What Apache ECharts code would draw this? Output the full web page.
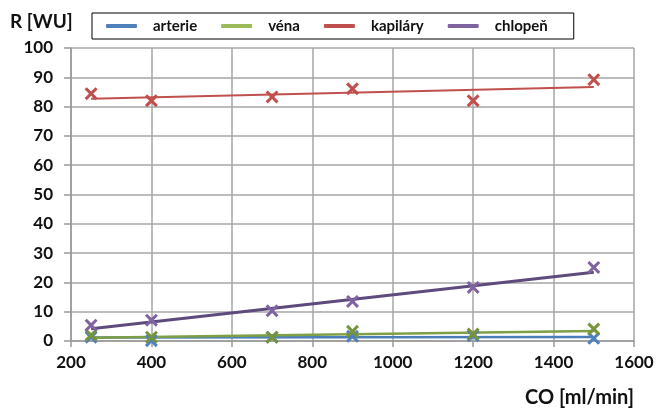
<!DOCTYPE html>
<html>
<head>
<meta charset="utf-8">
<script src="https://cdn.jsdelivr.net/npm/echarts@6/dist/echarts.min.js"></script>
<style>
html,body{margin:0;padding:0;background:#fff;}
#chart{width:659px;height:408px;}
</style>
</head>
<body>
<div id="chart"></div>
<script>
// Data
const coValues = [250, 400, 700, 900, 1200, 1500];
const arterie  = [1.3, 0.1, 1.3, 1.6, 1.8, 0.9];
const vena     = [2.0, 1.3, 1.3, 3.3, 2.4, 4.1];
const kapilary = [84.4, 82.0, 83.3, 86.1, 82.0, 89.2];
const chlopen  = [5.4, 7.1, 10.3, 13.5, 18.3, 25.1];

// Trendline end points (as drawn in the picture)
const trendX        = [250, 1500];
const arterieTrend  = [1.2, 1.4];
const venaTrend     = [1.1, 3.4];
const kapilaryTrend = [82.7, 86.7];
const chlopenTrend  = [4.2, 23.5];

const xTicks = [200, 400, 600, 800, 1000, 1200, 1400, 1600];

const names = ['arterie', 'véna', 'kapiláry', 'chlopeň'];
const legendColors = ['#4F81BD', '#9BBB59', '#C0504D', '#8064A2'];
const lineColors   = ['#4A7EBB', '#7E9F45', '#C0504D', '#5F4A7E'];
const markerColors = ['#4F81BD', '#77933C', '#C0504D', '#8064A2'];
const lineWidths   = [2.5, 2.5, 2, 3];

const pointSets = [arterie, vena, kapilary, chlopen];
const trendSets = [arterieTrend, venaTrend, kapilaryTrend, chlopenTrend];

const crossPath = 'path://M0,2L2,0L6,4L10,0L12,2L8,6L12,10L10,12L6,8L2,12L0,10L4,6Z';
const font = 'Lato, "Open Sans", sans-serif';

const series = [];
names.forEach((n, i) => {
  series.push({
    name: n,
    type: 'line',
    data: trendX.map((x, k) => [x, trendSets[i][k]]),
    showSymbol: false,
    symbol: 'none',
    lineStyle: { color: lineColors[i], width: lineWidths[i] },
    itemStyle: { color: legendColors[i] },
    z: 3,
    silent: true
  });
});
names.forEach((n, i) => {
  series.push({
    name: n + ' body',
    type: 'scatter',
    data: coValues.map((x, k) => [x, pointSets[i][k]]),
    symbol: crossPath,
    symbolSize: 13,
    itemStyle: { color: markerColors[i], opacity: 1 },
    z: 4,
    silent: true
  });
});

const chart = echarts.init(document.getElementById('chart'), null, { renderer: 'canvas' });
chart.setOption({
  animation: false,
  backgroundColor: '#ffffff',
  grid: { left: 71, right: 25, top: 48, bottom: 66, containLabel: false },
  legend: {
    left: 92, top: 13,
    padding: [5, 26, 5, 14],
    borderColor: '#000', borderWidth: 1,
    itemWidth: 31, itemHeight: 4,
    itemGap: 24,
    icon: 'roundRect',
    data: names.map((n, i) => ({ name: n, itemStyle: { color: legendColors[i] }, lineStyle: { color: legendColors[i] } })),
    textStyle: { fontFamily: font, fontWeight: 'bold', fontSize: 15, color: '#111', padding: [0, 0, 0, 11], lineHeight: 16 }
  },
  xAxis: {
    type: 'value', min: 200, max: 1600, interval: 200,
    name: 'CO [ml/min]',
    nameLocation: 'end',
    nameGap: 0,
    nameTextStyle: { fontFamily: font, fontWeight: 'bold', fontSize: 20, color: '#111', align: 'right', verticalAlign: 'top', padding: [47, 0, 0, 0] },
    axisLine: { show: true, lineStyle: { color: '#999', width: 1.5 } },
    axisTick: { show: true, length: 6, inside: false, lineStyle: { color: '#999', width: 1.5 } },
    splitLine: { show: true, lineStyle: { color: '#A6A6A6', width: 1.5 } },
    axisLabel: { fontFamily: font, fontWeight: 'bold', fontSize: 17, color: '#111', margin: 13,
      formatter: v => xTicks.includes(v) ? String(v) : '' }
  },
  yAxis: {
    type: 'value', min: 0, max: 100, interval: 10,
    name: 'R [WU]',
    nameLocation: 'end',
    nameGap: 0,
    nameTextStyle: { fontFamily: font, fontWeight: 'bold', fontSize: 19, color: '#111', align: 'left', verticalAlign: 'bottom', padding: [0, 0, 17, -61] },
    axisLine: { show: true, lineStyle: { color: '#999', width: 1.5 } },
    axisTick: { show: true, length: 7, inside: false, lineStyle: { color: '#999', width: 1.5 } },
    splitLine: { show: true, lineStyle: { color: '#A6A6A6', width: 1.5 } },
    axisLabel: { fontFamily: font, fontWeight: 'bold', fontSize: 17, color: '#111', margin: 18 }
  },
  series: series
});
</script>
</body>
</html>
